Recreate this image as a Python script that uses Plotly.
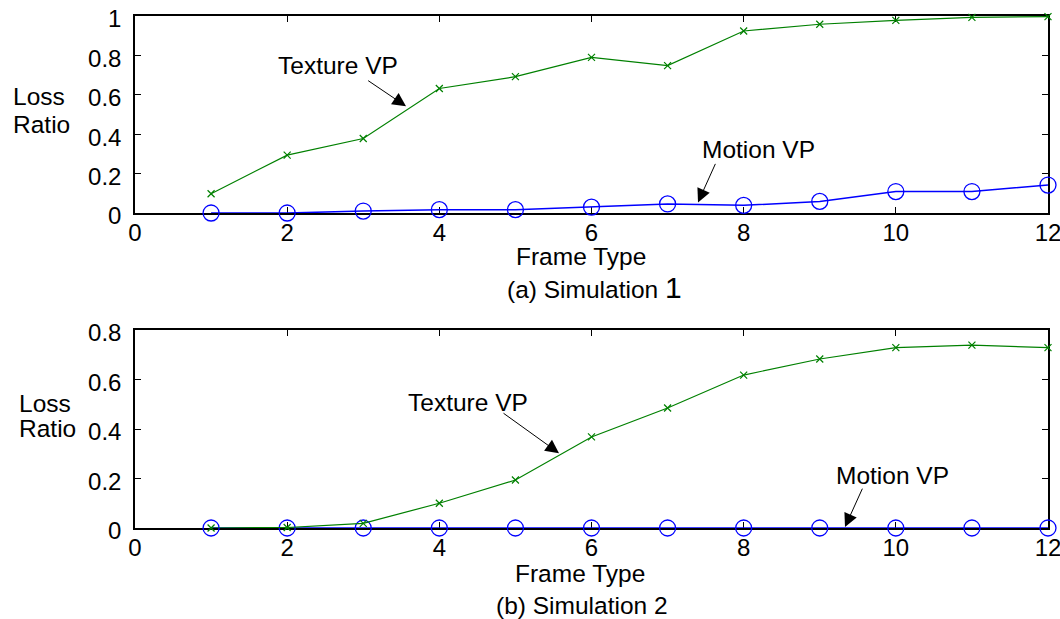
import plotly.graph_objects as go
from plotly.subplots import make_subplots

# Frame types 1..12
frame_type = [1, 2, 3, 4, 5, 6, 7, 8, 9, 10, 11, 12]

# Simulation 1 loss ratios
sim1_texture = [0.098, 0.294, 0.378, 0.632, 0.692, 0.790, 0.748, 0.924, 0.958, 0.978, 0.993, 0.997]
sim1_motion = [0.0, 0.0, 0.010, 0.017, 0.017, 0.030, 0.046, 0.039, 0.059, 0.109, 0.109, 0.142]

# Simulation 2 loss ratios
sim2_texture = [0.0, 0.002, 0.019, 0.100, 0.194, 0.368, 0.485, 0.618, 0.683, 0.729, 0.739, 0.729]
sim2_motion = [0.0, 0.0, 0.0, 0.0, 0.0, 0.0, 0.0, 0.0, 0.0, 0.0, 0.0, 0.0]

x_ticks = [0, 2, 4, 6, 8, 10, 12]
y_ticks_top = [0, 0.2, 0.4, 0.6, 0.8, 1]
y_ticks_bottom = [0, 0.2, 0.4, 0.6, 0.8]

FONT = "Liberation Sans, Arial, sans-serif"
GREEN = "#008000"
BLUE = "#0000FF"
FS = 24.5
TICK_FS = 24

fig = make_subplots(rows=2, cols=1)

for row, tex, mot in [(1, sim1_texture, sim1_motion), (2, sim2_texture, sim2_motion)]:
    fig.add_trace(go.Scatter(
        x=frame_type, y=mot, mode="lines+markers", cliponaxis=False,
        line=dict(color=BLUE, width=1.5),
        marker=dict(symbol="circle-open", size=16, color=BLUE, line=dict(width=1.3, color=BLUE)),
        showlegend=False), row=row, col=1)
    fig.add_trace(go.Scatter(
        x=frame_type, y=tex, mode="lines+markers", cliponaxis=False,
        line=dict(color=GREEN, width=1.2),
        marker=dict(symbol="x-thin-open", size=7, color=GREEN, line=dict(width=1.2, color=GREEN)),
        showlegend=False), row=row, col=1)

axis_common = dict(
    showline=True, linecolor="black", linewidth=1.5, mirror="ticks",
    ticks="inside", ticklen=6, tickcolor="black", tickwidth=1,
    showgrid=False, zeroline=False, layer="below traces",
    ticklabeloverflow="allow",
    tickfont=dict(family=FONT, size=TICK_FS, color="black"), automargin=False,
)

fig.update_xaxes(range=[0, 12], tickvals=x_ticks, ticklabelstandoff=-3, **axis_common)
fig.update_yaxes(ticklabelstandoff=7, ticklabelshift=3, **axis_common)
fig.update_yaxes(range=[0, 1], tickvals=y_ticks_top, row=1, col=1)
fig.update_yaxes(range=[0, 0.8], tickvals=y_ticks_bottom, row=2, col=1)

fig.update_layout(
    width=1060, height=619,
    margin=dict(l=135, r=12, t=16, b=91),
    paper_bgcolor="white", plot_bgcolor="white",
    font=dict(family=FONT, size=FS, color="black"),
    xaxis=dict(domain=[0, 1]), yaxis=dict(domain=[0.6152, 1]),
    xaxis2=dict(domain=[0, 1]), yaxis2=dict(domain=[0, 0.3867]),
)

annotations = []

def text_ann(txt, x, y, xref, yref, xanchor="center", size=FS):
    annotations.append(dict(text=txt, x=x, y=y, xref=xref, yref=yref, showarrow=False,
                            xanchor=xanchor, yanchor="middle",
                            font=dict(family=FONT, size=size, color="black")))

def arrow_ann(x, y, ax, ay, xref, yref):
    annotations.append(dict(text="", x=x, y=y, ax=ax, ay=ay, xref=xref, yref=yref,
                            axref=xref, ayref=yref, showarrow=True,
                            arrowhead=2, arrowsize=2.7, arrowwidth=1, arrowcolor="black"))

# Series labels with pointer arrows
text_ann("Texture VP", 2.668, 0.75, "x", "y")
arrow_ann(3.562, 0.542, 3.045, 0.677, "x", "y")
text_ann("Motion VP", 8.19, 0.323, "x", "y")
arrow_ann(7.40, 0.054, 7.637, 0.257, "x", "y")

text_ann("Texture VP", 4.377, 0.508, "x2", "y2")
arrow_ann(5.573, 0.3025, 4.824, 0.468, "x2", "y2")
text_ann("Motion VP", 9.95, 0.214, "x2", "y2")
arrow_ann(9.332, 0.004, 9.569, 0.165, "x2", "y2")

# Axis titles and captions
text_ann("Loss", -0.1358, 0.8418, "paper", "paper", xanchor="left")
text_ann("Ratio", -0.1358, 0.789, "paper", "paper", xanchor="left")
text_ann("Loss", -0.129, 0.2441, "paper", "paper", xanchor="left")
text_ann("Ratio", -0.129, 0.1943, "paper", "paper", xanchor="left")

text_ann("Frame Type", 0.4885, 0.5293, "paper", "paper")
text_ann("(a) Simulation <span style='font-size:30px'>1</span>", 0.5033, 0.4688, "paper", "paper")
text_ann("Frame Type", 0.4874, -0.0879, "paper", "paper")
text_ann("(b) Simulation 2", 0.4896, -0.1504, "paper", "paper")

fig.update_layout(annotations=annotations)

fig.write_html("out.html")
